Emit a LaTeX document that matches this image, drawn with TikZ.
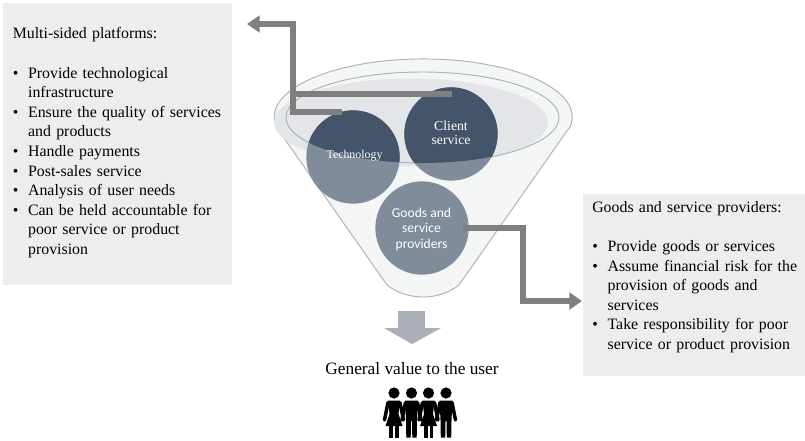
\documentclass[tikz,border=0pt]{standalone}
\usepackage{fontspec}
\setmainfont{Liberation Serif}
\newfontfamily\carlito{Carlito}
\usetikzlibrary{arrows.meta}
\definecolor{boxgrey}{HTML}{EDEDED}
\definecolor{funnelfill}{HTML}{F4F5F5}
\definecolor{funnelline}{HTML}{A9B2BD}
\definecolor{liquid}{HTML}{E3E5E8}
\definecolor{darkc}{HTML}{44546A}
\definecolor{lightc}{HTML}{818C9B}
\definecolor{conn}{HTML}{7F7F7F}
\definecolor{downarrow}{HTML}{ABAFB7}
\newcommand{\bul}[1]{\hangindent=11.5pt\hangafter=1\noindent\makebox[11.5pt][l]{\textbullet}#1\par}
\newcommand{\nohyph}{\hyphenpenalty=10000 \exhyphenpenalty=10000\relax}
\tikzset{
  panel/.style={fill=boxgrey,draw=none},
  paneltext/.style={anchor=north west,inner sep=0pt,text width=#1,align=left,font=\fontsize{11.9}{14.7}\selectfont\nohyph},
  disc/.style={circle,minimum size=70pt,inner sep=0pt,fill=lightc,text=white,align=center,font=\fontsize{9.6}{12.2}\selectfont},
  label/.style={text=white,align=center,inner sep=0pt},
  link/.style={draw=conn,line width=3.8pt,-{Triangle[length=9.5pt,width=12.5pt]}},
  plain/.style={draw=conn,line width=3.8pt},
  figure/.style={fill=black,draw=none}
}
\newcommand{\headbody}[2]{%
  \fill (#1,393) circle (5.6);
  \ifnum#2=1
    \fill (#1-6,400.5) -- (#1+6,400.5) -- (#1+4.5,414) -- (#1+8.5,426) -- (#1-8.5,426) -- (#1-4.5,414) -- cycle;
    \fill (#1-4.8,425) rectangle (#1-1,437.5);
    \fill (#1+1,425) rectangle (#1+4.8,437.5);
  \else
    \fill (#1-6.5,400.5) -- (#1+6.5,400.5) -- (#1+5.5,420) -- (#1+5.2,437.5) -- (#1+0.8,437.5) -- (#1+0.5,421) -- (#1-0.5,421) -- (#1-0.8,437.5) -- (#1-5.2,437.5) -- (#1-5.5,420) -- cycle;
  \fi
  \draw[black,line width=2.6pt,line cap=round] (#1-6,402.5) -- (#1-9.5,420);
  \draw[black,line width=2.6pt,line cap=round] (#1+6,402.5) -- (#1+9.5,420);
}
\begin{document}
\begin{tikzpicture}[x=0.75pt,y=-0.75pt]
\useasboundingbox (0,0) rectangle (805,440);
\fill[white] (0,0) rectangle (805,440);

% panels
\node[panel,anchor=north west,minimum width=171.75pt,minimum height=211.5pt,inner sep=0pt] (leftbox) at (3,3) {};
\node[panel,anchor=north west,minimum width=167pt,minimum height=136.5pt,inner sep=0pt] (rightbox) at (583,194) {};

% funnel
\path[draw=funnelline,line width=0.7pt,fill=funnelfill]
  (569,128) -- (459,285) .. controls (449,293) and (436,297) .. (423,297)
  .. controls (410,297) and (397,293) .. (387,285) -- (277,128)
  arc [start angle=169,end angle=371,x radius=149,y radius=58] -- cycle;
\fill[liquid] (411,122.5) ellipse [x radius=137,y radius=44];
\draw[funnelline,line width=0.7pt] (422.5,117.5) ellipse [x radius=136.5,y radius=45.5];

% circles
\node[disc] (tech) at (353,157) {};
\node[disc] (client) at (451,134) {};
\node[disc] (goods) at (422,228) {};
\begin{scope}
  \clip (422.5,117.5) ellipse [x radius=136.5,y radius=45.5];
  \fill[darkc] (tech.center) circle (46.7);
  \fill[darkc] (client.center) circle (46.7);
\end{scope}
\node[label,font=\carlito\fontsize{10.2}{11.6}\selectfont] (goodslabel) at (421.5,229) {Goods and\\service\\providers};
\node[label,font=\fontsize{8.9}{11}\selectfont] (techlabel) at (354.5,156) {Technology};
\node[label,font=\fontsize{10.3}{10.6}\selectfont] (clientlabel) at (451,133) {Client\\service};

% connectors
\coordinate (cstart) at (452,94);
\coordinate (tstart) at (342,112);
\coordinate (corner) at (293,94);
\coordinate (ltop) at (293,24);
\coordinate (lend) at (247,24);
\coordinate (gstart) at (463,228);
\coordinate (gc1) at (523,228);
\coordinate (gc2) at (523,301);
\coordinate (gend) at (582,301);
\draw[plain,line cap=butt] (tstart) -- (293,112) -- (corner);
\draw[plain] (cstart) -- (corner);
\draw[link,line join=miter] (293,114) -- (ltop) -- (lend);
\draw[link,line join=miter] (gstart) -- (gc1) -- (gc2) -- (gend);

% down arrow
\fill[downarrow] (398,311) -- (425,311) -- (425,328) -- (441,328) -- (412,344) -- (384,328) -- (398,328) -- cycle;

% texts
\node[paneltext=170pt] (lefttext) at (12.5,27.5) {Multi-sided platforms:\par\vspace{14.7pt}%
\bul{Provide technological\newline infrastructure}
\bul{Ensure the quality of services\newline and products}
\bul{Handle payments}
\bul{Post-sales service}
\bul{Analysis of user needs}
\bul{Can be held accountable for\newline poor service or product\newline provision}};

\node[paneltext=160pt] (righttext) at (592,201) {Goods and service providers:\par\vspace{14.7pt}%
\bul{Provide goods or services}
\bul{Assume financial risk for the\newline provision of goods and\newline services}
\bul{Take responsibility for poor\newline service or product provision}};

\node[inner sep=0pt,font=\fontsize{13}{15}\selectfont] (value) at (412,369) {General value to the user};

% people
\begin{scope}[figure]
  \headbody{394}{1}
  \headbody{411.5}{0}
  \headbody{428.5}{1}
  \headbody{446}{0}
\end{scope}
\end{tikzpicture}
\end{document}
